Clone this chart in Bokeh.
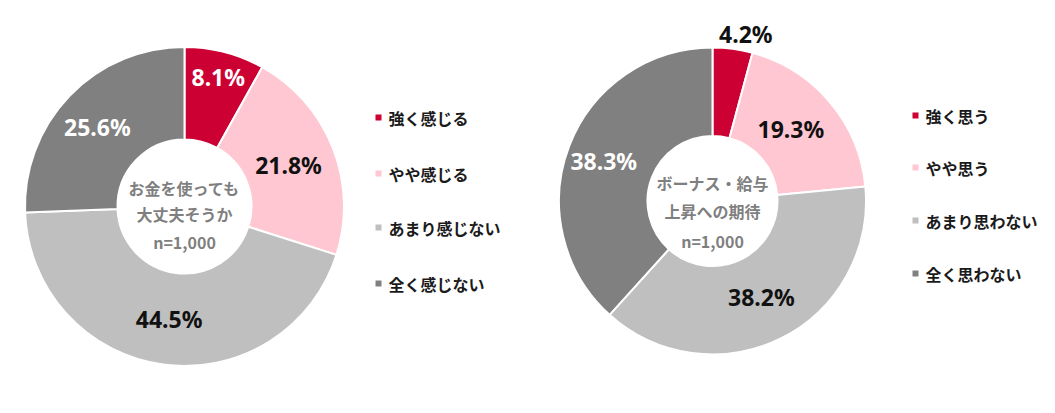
import math
from bokeh.plotting import figure
from bokeh.models import Range1d, ColumnDataSource
from bokeh.core.properties import value
from bokeh.embed import file_html
from bokeh.resources import INLINE

# ---- data ----
left_categories = ["強く感じる", "やや感じる", "あまり感じない", "全く感じない"]
left_values = [8.1, 21.8, 44.5, 25.6]
left_title = ["お金を使っても", "大丈夫そうか", "n=1,000"]

right_categories = ["強く思う", "やや思う", "あまり思わない", "全く思わない"]
right_values = [4.2, 19.3, 38.2, 38.3]
right_title = ["ボーナス・給与", "上昇への期待", "n=1,000"]

# ---- styles ----
colors = ["#CC0033", "#FFC7D2", "#BFBFBF", "#808080"]
label_colors_left = ["white", "#111111", "#111111", "white"]
label_colors_right = ["#111111", "#111111", "#111111", "white"]
H = 413

W_PX, H_PX = 1039, 397
p = figure(width=W_PX, height=H_PX, output_backend="svg", toolbar_location=None,
           x_range=Range1d(0, W_PX), y_range=Range1d(H - H_PX, H),
           min_border=0)
p.axis.visible = False
p.grid.visible = False
p.outline_line_color = None
p.background_fill_color = "white"

JP = value("Noto Sans CJK JP")
NUM = value("Noto Sans")


def donut(cx, cy, r_out, r_in, vals, lab_colors, lab_r, lab_off, title, title_ys,
          cats, leg_x, leg_ys):
    total = sum(vals)
    starts, ends, mids = [], [], []
    acc = 0.0
    for v in vals:
        s = math.pi / 2 - 2 * math.pi * acc / total
        acc += v
        e = math.pi / 2 - 2 * math.pi * acc / total
        starts.append(s)
        ends.append(e)
        mids.append((s + e) / 2)
    src = ColumnDataSource(dict(start=starts, end=ends, color=colors))
    p.annular_wedge(x=cx, y=H - cy, inner_radius=r_in, outer_radius=r_out,
                    start_angle="start", end_angle="end", direction="clock",
                    fill_color="color", line_color="white", line_width=2, source=src)
    lx, ly, lt = [], [], []
    for v, m, rr, off in zip(vals, mids, lab_r, lab_off):
        lx.append(cx + rr * math.cos(m) + off[0])
        ly.append(H - (cy - rr * math.sin(m) + off[1]))
        lt.append(f"{v:.1f}%")
    p.text(x=lx, y=ly, text=lt, text_color=lab_colors, text_font=NUM,
           text_font_style="bold", text_font_size="23px",
           text_align="center", text_baseline="middle")
    p.text(x=[cx] * len(title), y=[H - y for y in title_ys], text=title,
           text_color="#7F7F7F", text_font=JP, text_font_style="bold",
           text_font_size="16px", text_align="center", text_baseline="middle")
    p.rect(x=[leg_x] * 4, y=[H - y for y in leg_ys], width=6, height=6,
           fill_color=colors, line_color=None)
    p.text(x=[leg_x + 10] * 4, y=[H - y for y in leg_ys], text=cats,
           text_color="#1A1A1A", text_font=JP, text_font_style="bold",
           text_font_size="16px", text_align="left", text_baseline="middle")


donut(184, 206, 159.5, 67, left_values, label_colors_left,
      [134, 114, 114, 114], [(0, 0), (-2, 0), (0, 0), (-5, 0)],
      left_title, [187, 213, 241],
      left_categories, 378, [117, 173, 227, 283])

donut(712, 200.5, 153.5, 65, right_values, label_colors_right,
      [177, 109, 109, 109], [(10, 8), (-5, -2), (0, -1), (-7, -1)],
      right_title, [182, 210, 240],
      right_categories, 915, [115, 167, 220, 273])

open("out.html", "w").write(file_html(p, INLINE))
